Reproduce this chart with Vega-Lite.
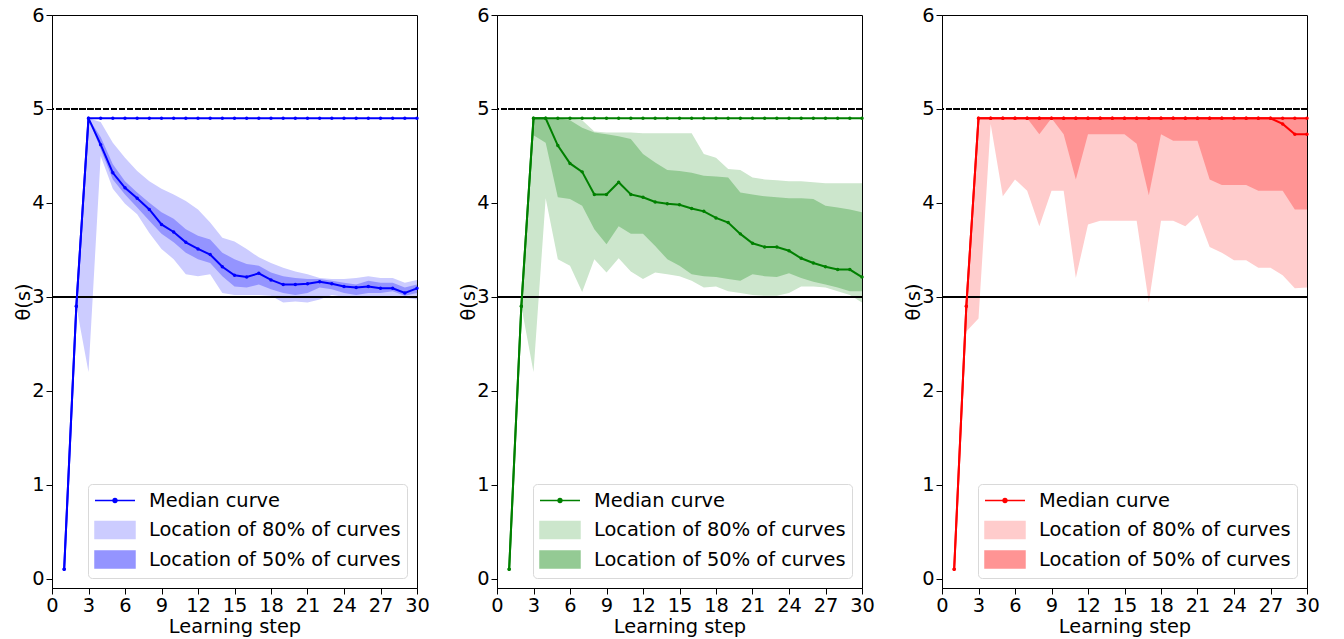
{
  "$schema": "https://vega.github.io/schema/vega-lite/v6.json",
  "padding": {"left": 13, "right": 5, "top": 4, "bottom": 3},
  "background": "white",
  "datasets": {
    "blue": [
      {"x":1,"m":0.1,"t":0.1,"l8":0.1,"h8":0.1,"l5":0.1,"h5":0.1},
      {"x":2,"m":2.9,"t":2.9,"l8":2.9,"h8":2.9,"l5":2.9,"h5":2.9},
      {"x":3,"m":4.9,"t":4.9,"l8":2.2,"h8":4.9,"l5":4.9,"h5":4.9},
      {"x":4,"m":4.62,"t":4.9,"l8":4.5,"h8":4.86,"l5":4.57,"h5":4.7},
      {"x":5,"m":4.32,"t":4.9,"l8":4.15,"h8":4.64,"l5":4.25,"h5":4.41},
      {"x":6,"m":4.16,"t":4.9,"l8":3.99,"h8":4.48,"l5":4.09,"h5":4.23},
      {"x":7,"m":4.05,"t":4.9,"l8":3.88,"h8":4.34,"l5":3.95,"h5":4.11},
      {"x":8,"m":3.93,"t":4.9,"l8":3.68,"h8":4.23,"l5":3.81,"h5":4.0},
      {"x":9,"m":3.77,"t":4.9,"l8":3.51,"h8":4.15,"l5":3.67,"h5":3.9},
      {"x":10,"m":3.69,"t":4.9,"l8":3.4,"h8":4.09,"l5":3.58,"h5":3.83},
      {"x":11,"m":3.58,"t":4.9,"l8":3.24,"h8":4.02,"l5":3.47,"h5":3.72},
      {"x":12,"m":3.51,"t":4.9,"l8":3.22,"h8":3.93,"l5":3.4,"h5":3.65},
      {"x":13,"m":3.45,"t":4.9,"l8":3.24,"h8":3.79,"l5":3.36,"h5":3.61},
      {"x":14,"m":3.32,"t":4.9,"l8":3.04,"h8":3.63,"l5":3.22,"h5":3.47},
      {"x":15,"m":3.23,"t":4.9,"l8":3.02,"h8":3.59,"l5":3.11,"h5":3.4},
      {"x":16,"m":3.21,"t":4.9,"l8":3.02,"h8":3.51,"l5":3.1,"h5":3.35},
      {"x":17,"m":3.25,"t":4.9,"l8":3.02,"h8":3.42,"l5":3.13,"h5":3.33},
      {"x":18,"m":3.18,"t":4.9,"l8":3.01,"h8":3.36,"l5":3.08,"h5":3.26},
      {"x":19,"m":3.13,"t":4.9,"l8":2.94,"h8":3.31,"l5":3.04,"h5":3.22},
      {"x":20,"m":3.13,"t":4.9,"l8":2.95,"h8":3.27,"l5":3.02,"h5":3.2},
      {"x":21,"m":3.14,"t":4.9,"l8":2.94,"h8":3.24,"l5":3.04,"h5":3.19},
      {"x":22,"m":3.16,"t":4.9,"l8":2.97,"h8":3.2,"l5":3.1,"h5":3.19},
      {"x":23,"m":3.14,"t":4.9,"l8":3.02,"h8":3.19,"l5":3.08,"h5":3.17},
      {"x":24,"m":3.11,"t":4.9,"l8":3.0,"h8":3.19,"l5":3.04,"h5":3.15},
      {"x":25,"m":3.1,"t":4.9,"l8":2.99,"h8":3.2,"l5":3.02,"h5":3.13},
      {"x":26,"m":3.11,"t":4.9,"l8":3.0,"h8":3.22,"l5":3.04,"h5":3.17},
      {"x":27,"m":3.09,"t":4.9,"l8":3.0,"h8":3.2,"l5":3.04,"h5":3.15},
      {"x":28,"m":3.09,"t":4.9,"l8":3.0,"h8":3.2,"l5":3.06,"h5":3.15},
      {"x":29,"m":3.04,"t":4.9,"l8":2.99,"h8":3.15,"l5":3.01,"h5":3.1},
      {"x":30,"m":3.09,"t":4.9,"l8":2.97,"h8":3.18,"l5":3.04,"h5":3.13}
    ],
    "green": [
      {"x":1,"m":0.1,"t":0.1,"l8":0.1,"h8":0.1,"l5":0.1,"h5":0.1},
      {"x":2,"m":2.9,"t":2.9,"l8":2.9,"h8":2.9,"l5":2.9,"h5":2.9},
      {"x":3,"m":4.9,"t":4.9,"l8":2.2,"h8":4.9,"l5":4.72,"h5":4.9},
      {"x":4,"m":4.9,"t":4.9,"l8":4.05,"h8":4.9,"l5":4.64,"h5":4.9},
      {"x":5,"m":4.61,"t":4.9,"l8":3.4,"h8":4.9,"l5":4.06,"h5":4.9},
      {"x":6,"m":4.42,"t":4.9,"l8":3.33,"h8":4.9,"l5":4.04,"h5":4.88},
      {"x":7,"m":4.33,"t":4.9,"l8":3.05,"h8":4.88,"l5":3.97,"h5":4.8},
      {"x":8,"m":4.09,"t":4.9,"l8":3.4,"h8":4.76,"l5":3.72,"h5":4.75},
      {"x":9,"m":4.09,"t":4.9,"l8":3.26,"h8":4.75,"l5":3.56,"h5":4.73},
      {"x":10,"m":4.22,"t":4.9,"l8":3.41,"h8":4.75,"l5":3.75,"h5":4.71},
      {"x":11,"m":4.09,"t":4.9,"l8":3.27,"h8":4.75,"l5":3.67,"h5":4.68},
      {"x":12,"m":4.06,"t":4.9,"l8":3.19,"h8":4.74,"l5":3.67,"h5":4.52},
      {"x":13,"m":4.01,"t":4.9,"l8":3.26,"h8":4.74,"l5":3.54,"h5":4.43},
      {"x":14,"m":3.99,"t":4.9,"l8":3.24,"h8":4.74,"l5":3.4,"h5":4.35},
      {"x":15,"m":3.98,"t":4.9,"l8":3.22,"h8":4.74,"l5":3.33,"h5":4.34},
      {"x":16,"m":3.94,"t":4.9,"l8":3.17,"h8":4.74,"l5":3.24,"h5":4.32},
      {"x":17,"m":3.91,"t":4.9,"l8":3.1,"h8":4.52,"l5":3.22,"h5":4.29},
      {"x":18,"m":3.84,"t":4.9,"l8":3.11,"h8":4.48,"l5":3.21,"h5":4.28},
      {"x":19,"m":3.79,"t":4.9,"l8":3.06,"h8":4.36,"l5":3.19,"h5":4.27},
      {"x":20,"m":3.67,"t":4.9,"l8":3.04,"h8":4.35,"l5":3.17,"h5":4.11},
      {"x":21,"m":3.57,"t":4.9,"l8":3.02,"h8":4.27,"l5":3.24,"h5":4.09},
      {"x":22,"m":3.53,"t":4.9,"l8":3.01,"h8":4.25,"l5":3.22,"h5":4.07},
      {"x":23,"m":3.53,"t":4.9,"l8":3.01,"h8":4.24,"l5":3.21,"h5":4.06},
      {"x":24,"m":3.49,"t":4.9,"l8":3.04,"h8":4.23,"l5":3.25,"h5":4.05},
      {"x":25,"m":3.41,"t":4.9,"l8":3.11,"h8":4.23,"l5":3.2,"h5":4.05},
      {"x":26,"m":3.36,"t":4.9,"l8":3.11,"h8":4.22,"l5":3.16,"h5":4.04},
      {"x":27,"m":3.32,"t":4.9,"l8":3.1,"h8":4.21,"l5":3.13,"h5":3.97},
      {"x":28,"m":3.29,"t":4.9,"l8":3.06,"h8":4.21,"l5":3.1,"h5":3.95},
      {"x":29,"m":3.29,"t":4.9,"l8":3.02,"h8":4.21,"l5":3.06,"h5":3.93},
      {"x":30,"m":3.21,"t":4.9,"l8":2.94,"h8":4.21,"l5":3.06,"h5":3.9}
    ],
    "red": [
      {"x":1,"m":0.1,"t":0.1,"l8":0.1,"h8":0.1,"l5":0.1,"h5":0.1},
      {"x":2,"m":2.9,"t":2.9,"l8":2.63,"h8":2.9,"l5":2.9,"h5":2.9},
      {"x":3,"m":4.9,"t":4.9,"l8":2.77,"h8":4.9,"l5":4.9,"h5":4.9},
      {"x":4,"m":4.9,"t":4.9,"l8":4.84,"h8":4.9,"l5":4.9,"h5":4.9},
      {"x":5,"m":4.9,"t":4.9,"l8":4.07,"h8":4.9,"l5":4.9,"h5":4.9},
      {"x":6,"m":4.9,"t":4.9,"l8":4.25,"h8":4.9,"l5":4.9,"h5":4.9},
      {"x":7,"m":4.9,"t":4.9,"l8":4.13,"h8":4.9,"l5":4.9,"h5":4.9},
      {"x":8,"m":4.9,"t":4.9,"l8":3.75,"h8":4.9,"l5":4.73,"h5":4.9},
      {"x":9,"m":4.9,"t":4.9,"l8":4.13,"h8":4.9,"l5":4.9,"h5":4.9},
      {"x":10,"m":4.9,"t":4.9,"l8":4.13,"h8":4.9,"l5":4.73,"h5":4.9},
      {"x":11,"m":4.9,"t":4.9,"l8":3.2,"h8":4.9,"l5":4.25,"h5":4.9},
      {"x":12,"m":4.9,"t":4.9,"l8":3.77,"h8":4.9,"l5":4.73,"h5":4.9},
      {"x":13,"m":4.9,"t":4.9,"l8":3.81,"h8":4.9,"l5":4.73,"h5":4.9},
      {"x":14,"m":4.9,"t":4.9,"l8":3.81,"h8":4.9,"l5":4.73,"h5":4.9},
      {"x":15,"m":4.9,"t":4.9,"l8":3.81,"h8":4.9,"l5":4.73,"h5":4.9},
      {"x":16,"m":4.9,"t":4.9,"l8":3.81,"h8":4.9,"l5":4.63,"h5":4.9},
      {"x":17,"m":4.9,"t":4.9,"l8":2.94,"h8":4.9,"l5":4.08,"h5":4.9},
      {"x":18,"m":4.9,"t":4.9,"l8":3.81,"h8":4.9,"l5":4.73,"h5":4.9},
      {"x":19,"m":4.9,"t":4.9,"l8":3.81,"h8":4.9,"l5":4.66,"h5":4.9},
      {"x":20,"m":4.9,"t":4.9,"l8":3.75,"h8":4.9,"l5":4.66,"h5":4.9},
      {"x":21,"m":4.9,"t":4.9,"l8":3.87,"h8":4.9,"l5":4.66,"h5":4.9},
      {"x":22,"m":4.9,"t":4.9,"l8":3.53,"h8":4.9,"l5":4.25,"h5":4.9},
      {"x":23,"m":4.9,"t":4.9,"l8":3.47,"h8":4.9,"l5":4.19,"h5":4.9},
      {"x":24,"m":4.9,"t":4.9,"l8":3.39,"h8":4.9,"l5":4.19,"h5":4.9},
      {"x":25,"m":4.9,"t":4.9,"l8":3.39,"h8":4.9,"l5":4.19,"h5":4.9},
      {"x":26,"m":4.9,"t":4.9,"l8":3.31,"h8":4.9,"l5":4.13,"h5":4.9},
      {"x":27,"m":4.9,"t":4.9,"l8":3.31,"h8":4.9,"l5":4.13,"h5":4.9},
      {"x":28,"m":4.84,"t":4.9,"l8":3.23,"h8":4.9,"l5":4.13,"h5":4.9},
      {"x":29,"m":4.73,"t":4.9,"l8":3.09,"h8":4.9,"l5":3.93,"h5":4.9},
      {"x":30,"m":4.73,"t":4.9,"l8":3.1,"h8":4.9,"l5":3.93,"h5":4.9}
    ]
  },
  "spacing": 28,
  "resolve": {"scale": {"color": "independent", "x": "independent", "y": "independent"}, "legend": {"color": "independent"}},
  "hconcat": [
    {
      "width": 365, "height": 573,
      "data": {"name": "blue"},
      "layer": [
        {"mark": {"type": "area", "opacity": 1},
         "encoding": {
           "x": {"field": "x", "type": "quantitative", "scale": {"domain": [0, 30], "nice": false, "zero": false}, "axis": {"values": [0,3,6,9,12,15,18,21,24,27,30], "title": "Learning step"}},
           "y": {"field": "l8", "type": "quantitative", "scale": {"domain": [-0.1, 6], "nice": false, "zero": false}, "axis": {"values": [0,1,2,3,4,5,6], "format": "d", "title": "θ(s)"}},
           "y2": {"field": "h8"},
           "color": {"datum": "Location of 80% of curves", "type": "nominal",
             "scale": {"domain": ["Median curve", "Location of 80% of curves", "Location of 50% of curves"], "range": ["#0000ff", "#ccccff", "#9494ff"]},
             "legend": {"orient": "bottom-right", "offset": 10, "title": null, "symbolSize": 361, "labelFontSize": 19.4, "labelLimit": 0, "labelOffset": 34, "padding": 6, "rowPadding": 4.5, "strokeColor": "#d9d9d9", "fillColor": "white", "cornerRadius": 4, "labelColor": "black",
               "symbolType": {"expr": "datum.value === 'Median curve' ? 'M-1,-0.895M-1,0.895M-1,0H3.21M0.905,0A0.2,0.2,0,1,1,1.305,0A0.2,0.2,0,1,1,0.905,0Z' : 'M-1,-0.895H3.21V0.895H-1Z'"},
               "encode": {"symbols": {
                 "fill": {"value": {"expr": "datum.value === 'Median curve' ? '#0000ff' : datum.value === 'Location of 80% of curves' ? '#ccccff' : '#9494ff'"}},
                 "stroke": {"value": {"expr": "datum.value === 'Median curve' ? '#0000ff' : datum.value === 'Location of 80% of curves' ? '#bdbdfb' : '#8080f5'"}},
                 "strokeWidth": {"value": {"expr": "datum.value === 'Median curve' ? 2 : 1"}},
                 "opacity": {"value": 1}, "fillOpacity": {"value": 1}, "strokeOpacity": {"value": 1}
               }}}}
         }},
        {"mark": {"type": "area", "opacity": 1},
         "encoding": {"x": {"field": "x", "type": "quantitative", "axis": {"values": [0,3,6,9,12,15,18,21,24,27,30], "title": "Learning step"}}, "y": {"field": "l5", "type": "quantitative", "axis": {"values": [0,1,2,3,4,5,6], "format": "d", "title": "θ(s)"}}, "y2": {"field": "h5"}, "color": {"datum": "Location of 50% of curves", "type": "nominal"}}},
        {"mark": {"type": "rule", "color": "black", "strokeWidth": 1.5, "strokeDash": [5.5, 2.4]}, "encoding": {"y": {"datum": 5, "type": "quantitative", "axis": {"values": [0,1,2,3,4,5,6], "format": "d", "title": "θ(s)"}}}},
        {"mark": {"type": "rule", "color": "black", "strokeWidth": 1.5}, "encoding": {"y": {"datum": 3, "type": "quantitative", "axis": {"values": [0,1,2,3,4,5,6], "format": "d", "title": "θ(s)"}}}},
        {"mark": {"type": "line", "color": "#0000ff", "strokeWidth": 2, "point": {"filled": true, "size": 12, "color": "#0000ff"}}, "encoding": {"x": {"field": "x", "type": "quantitative", "axis": {"values": [0,3,6,9,12,15,18,21,24,27,30], "title": "Learning step"}}, "y": {"field": "t", "type": "quantitative", "axis": {"values": [0,1,2,3,4,5,6], "format": "d", "title": "θ(s)"}}}},
        {"mark": {"type": "line", "strokeWidth": 2, "point": {"filled": true, "size": 12}}, "encoding": {"x": {"field": "x", "type": "quantitative", "axis": {"values": [0,3,6,9,12,15,18,21,24,27,30], "title": "Learning step"}}, "y": {"field": "m", "type": "quantitative", "axis": {"values": [0,1,2,3,4,5,6], "format": "d", "title": "θ(s)"}}, "color": {"datum": "Median curve", "type": "nominal"}}}
      ]
    },
    {
      "width": 365, "height": 573,
      "data": {"name": "green"},
      "layer": [
        {"mark": {"type": "area", "opacity": 1},
         "encoding": {
           "x": {"field": "x", "type": "quantitative", "scale": {"domain": [0, 30], "nice": false, "zero": false}, "axis": {"values": [0,3,6,9,12,15,18,21,24,27,30], "title": "Learning step"}},
           "y": {"field": "l8", "type": "quantitative", "scale": {"domain": [-0.1, 6], "nice": false, "zero": false}, "axis": {"values": [0,1,2,3,4,5,6], "format": "d", "title": "θ(s)"}},
           "y2": {"field": "h8"},
           "color": {"datum": "Location of 80% of curves", "type": "nominal",
             "scale": {"domain": ["Median curve", "Location of 80% of curves", "Location of 50% of curves"], "range": ["#008000", "#cce6cc", "#94ca94"]},
             "legend": {"orient": "bottom-right", "offset": 10, "title": null, "symbolSize": 361, "labelFontSize": 19.4, "labelLimit": 0, "labelOffset": 34, "padding": 6, "rowPadding": 4.5, "strokeColor": "#d9d9d9", "fillColor": "white", "cornerRadius": 4, "labelColor": "black",
               "symbolType": {"expr": "datum.value === 'Median curve' ? 'M-1,-0.895M-1,0.895M-1,0H3.21M0.905,0A0.2,0.2,0,1,1,1.305,0A0.2,0.2,0,1,1,0.905,0Z' : 'M-1,-0.895H3.21V0.895H-1Z'"},
               "encode": {"symbols": {
                 "fill": {"value": {"expr": "datum.value === 'Median curve' ? '#008000' : datum.value === 'Location of 80% of curves' ? '#cce6cc' : '#94ca94'"}},
                 "stroke": {"value": {"expr": "datum.value === 'Median curve' ? '#008000' : datum.value === 'Location of 80% of curves' ? '#bcdcbc' : '#80bd80'"}},
                 "strokeWidth": {"value": {"expr": "datum.value === 'Median curve' ? 2 : 1"}},
                 "opacity": {"value": 1}, "fillOpacity": {"value": 1}, "strokeOpacity": {"value": 1}
               }}}}
         }},
        {"mark": {"type": "area", "opacity": 1},
         "encoding": {"x": {"field": "x", "type": "quantitative", "axis": {"values": [0,3,6,9,12,15,18,21,24,27,30], "title": "Learning step"}}, "y": {"field": "l5", "type": "quantitative", "axis": {"values": [0,1,2,3,4,5,6], "format": "d", "title": "θ(s)"}}, "y2": {"field": "h5"}, "color": {"datum": "Location of 50% of curves", "type": "nominal"}}},
        {"mark": {"type": "rule", "color": "black", "strokeWidth": 1.5, "strokeDash": [5.5, 2.4]}, "encoding": {"y": {"datum": 5, "type": "quantitative", "axis": {"values": [0,1,2,3,4,5,6], "format": "d", "title": "θ(s)"}}}},
        {"mark": {"type": "rule", "color": "black", "strokeWidth": 1.5}, "encoding": {"y": {"datum": 3, "type": "quantitative", "axis": {"values": [0,1,2,3,4,5,6], "format": "d", "title": "θ(s)"}}}},
        {"mark": {"type": "line", "color": "#008000", "strokeWidth": 2, "point": {"filled": true, "size": 12, "color": "#008000"}}, "encoding": {"x": {"field": "x", "type": "quantitative", "axis": {"values": [0,3,6,9,12,15,18,21,24,27,30], "title": "Learning step"}}, "y": {"field": "t", "type": "quantitative", "axis": {"values": [0,1,2,3,4,5,6], "format": "d", "title": "θ(s)"}}}},
        {"mark": {"type": "line", "strokeWidth": 2, "point": {"filled": true, "size": 12}}, "encoding": {"x": {"field": "x", "type": "quantitative", "axis": {"values": [0,3,6,9,12,15,18,21,24,27,30], "title": "Learning step"}}, "y": {"field": "m", "type": "quantitative", "axis": {"values": [0,1,2,3,4,5,6], "format": "d", "title": "θ(s)"}}, "color": {"datum": "Median curve", "type": "nominal"}}}
      ]
    },
    {
      "width": 365, "height": 573,
      "data": {"name": "red"},
      "layer": [
        {"mark": {"type": "area", "opacity": 1},
         "encoding": {
           "x": {"field": "x", "type": "quantitative", "scale": {"domain": [0, 30], "nice": false, "zero": false}, "axis": {"values": [0,3,6,9,12,15,18,21,24,27,30], "title": "Learning step"}},
           "y": {"field": "l8", "type": "quantitative", "scale": {"domain": [-0.1, 6], "nice": false, "zero": false}, "axis": {"values": [0,1,2,3,4,5,6], "format": "d", "title": "θ(s)"}},
           "y2": {"field": "h8"},
           "color": {"datum": "Location of 80% of curves", "type": "nominal",
             "scale": {"domain": ["Median curve", "Location of 80% of curves", "Location of 50% of curves"], "range": ["#ff0000", "#ffcccc", "#ff9494"]},
             "legend": {"orient": "bottom-right", "offset": 10, "title": null, "symbolSize": 361, "labelFontSize": 19.4, "labelLimit": 0, "labelOffset": 34, "padding": 6, "rowPadding": 4.5, "strokeColor": "#d9d9d9", "fillColor": "white", "cornerRadius": 4, "labelColor": "black",
               "symbolType": {"expr": "datum.value === 'Median curve' ? 'M-1,-0.895M-1,0.895M-1,0H3.21M0.905,0A0.2,0.2,0,1,1,1.305,0A0.2,0.2,0,1,1,0.905,0Z' : 'M-1,-0.895H3.21V0.895H-1Z'"},
               "encode": {"symbols": {
                 "fill": {"value": {"expr": "datum.value === 'Median curve' ? '#ff0000' : datum.value === 'Location of 80% of curves' ? '#ffcccc' : '#ff9494'"}},
                 "stroke": {"value": {"expr": "datum.value === 'Median curve' ? '#ff0000' : datum.value === 'Location of 80% of curves' ? '#fbbcbc' : '#f58080'"}},
                 "strokeWidth": {"value": {"expr": "datum.value === 'Median curve' ? 2 : 1"}},
                 "opacity": {"value": 1}, "fillOpacity": {"value": 1}, "strokeOpacity": {"value": 1}
               }}}}
         }},
        {"mark": {"type": "area", "opacity": 1},
         "encoding": {"x": {"field": "x", "type": "quantitative", "axis": {"values": [0,3,6,9,12,15,18,21,24,27,30], "title": "Learning step"}}, "y": {"field": "l5", "type": "quantitative", "axis": {"values": [0,1,2,3,4,5,6], "format": "d", "title": "θ(s)"}}, "y2": {"field": "h5"}, "color": {"datum": "Location of 50% of curves", "type": "nominal"}}},
        {"mark": {"type": "rule", "color": "black", "strokeWidth": 1.5, "strokeDash": [5.5, 2.4]}, "encoding": {"y": {"datum": 5, "type": "quantitative", "axis": {"values": [0,1,2,3,4,5,6], "format": "d", "title": "θ(s)"}}}},
        {"mark": {"type": "rule", "color": "black", "strokeWidth": 1.5}, "encoding": {"y": {"datum": 3, "type": "quantitative", "axis": {"values": [0,1,2,3,4,5,6], "format": "d", "title": "θ(s)"}}}},
        {"mark": {"type": "line", "color": "#ff0000", "strokeWidth": 2, "point": {"filled": true, "size": 12, "color": "#ff0000"}}, "encoding": {"x": {"field": "x", "type": "quantitative", "axis": {"values": [0,3,6,9,12,15,18,21,24,27,30], "title": "Learning step"}}, "y": {"field": "t", "type": "quantitative", "axis": {"values": [0,1,2,3,4,5,6], "format": "d", "title": "θ(s)"}}}},
        {"mark": {"type": "line", "strokeWidth": 2, "point": {"filled": true, "size": 12}}, "encoding": {"x": {"field": "x", "type": "quantitative", "axis": {"values": [0,3,6,9,12,15,18,21,24,27,30], "title": "Learning step"}}, "y": {"field": "m", "type": "quantitative", "axis": {"values": [0,1,2,3,4,5,6], "format": "d", "title": "θ(s)"}}, "color": {"datum": "Median curve", "type": "nominal"}}}
      ]
    }
  ],
  "config": {
    "font": "DejaVu Sans",
    "view": {"stroke": "black", "strokeWidth": 1},
    "axis": {"grid": false, "domainColor": "black", "tickColor": "black", "labelColor": "black", "titleColor": "black", "labelFontSize": 19.4, "titleFontSize": 19.4, "titleFontWeight": "normal", "tickSize": 6, "labelPadding": 2, "labelFlush": false, "labelOverlap": false},
    "axisX": {"titlePadding": 3},
    "axisY": {"titlePadding": -2}
  }
}
